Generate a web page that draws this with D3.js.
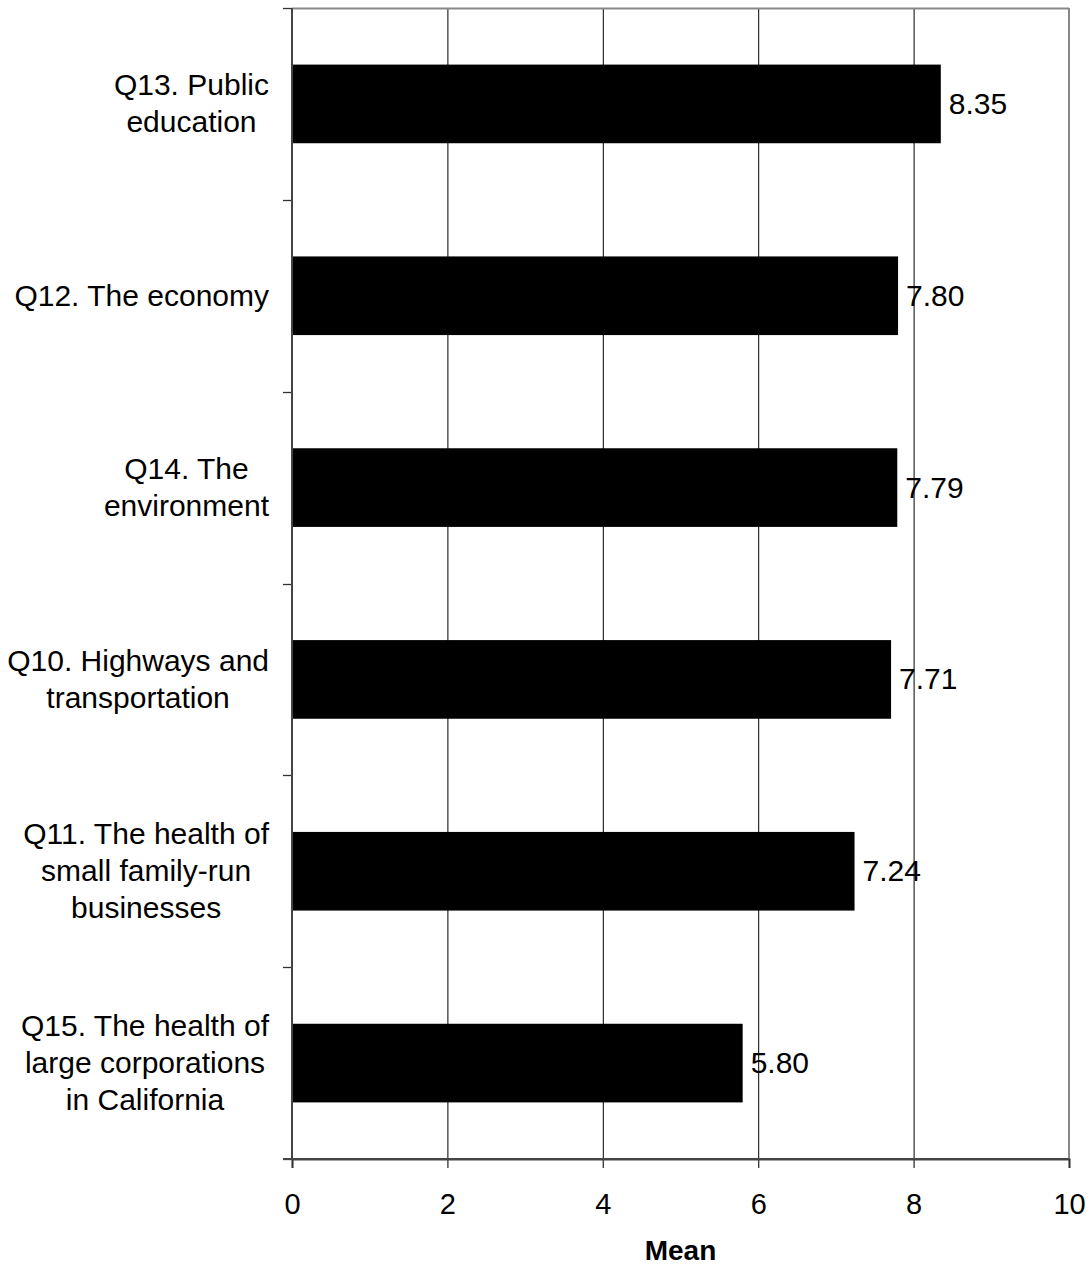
<!DOCTYPE html>
<html><head><meta charset="utf-8">
<script src="https://cdn.jsdelivr.net/npm/d3@7"></script>
<style>body{margin:0;background:#fff}svg{display:block}text{font-family:"Liberation Sans",Arial,sans-serif}</style>
</head><body>
<svg id="c" width="1090" height="1266"></svg>
<script>
const categories = [
  ["Q13. Public","education"],
  ["Q12. The economy"],
  ["Q14. The","environment"],
  ["Q10. Highways and","transportation"],
  ["Q11. The health of","small family-run","businesses"],
  ["Q15. The health of","large corporations","in California"]
];
const values = [8.35, 7.80, 7.79, 7.71, 7.24, 5.80];
const valueLabels = ["8.35","7.80","7.79","7.71","7.24","5.80"];
const xTicks = [0,2,4,6,8,10];
const axisTitle = "Mean";

const svg = d3.select("#c");
const L=292, R=1069, T=8, B=1159;
const x = d3.scaleLinear().domain([0,10]).range([L,R]);
const keys = categories.map((c,i)=>"c"+i);
const y = d3.scaleBand().domain(keys).range([T,B]).padding(0);
const barH = y.bandwidth()*0.41;
const FS = 30;

// gridlines
svg.append("g").selectAll("line").data(xTicks.filter(t=>t>0&&t<10)).join("line")
  .attr("x1",d=>x(d)+0.5).attr("x2",d=>x(d)+0.5).attr("y1",T).attr("y2",B)
  .attr("stroke","#000").attr("stroke-width",1);
// top/right border
svg.append("line").attr("x1",L).attr("x2",R).attr("y1",T+0.5).attr("y2",T+0.5).attr("stroke","#888").attr("stroke-width",2);
svg.append("line").attr("x1",R).attr("x2",R).attr("y1",T).attr("y2",B).attr("stroke","#888").attr("stroke-width",2);

// bars
svg.append("g").selectAll("rect").data(values).join("rect")
  .attr("x",x(0)-1).attr("y",(d,i)=>y(keys[i])+(y.bandwidth()-barH)/2)
  .attr("width",d=>x(d)-x(0)+1).attr("height",barH).attr("fill","#000");

// axes
const yAxis = svg.append("g").attr("transform",`translate(${L},0)`)
  .call(d3.axisLeft(y).tickSize(0).tickFormat(""));
yAxis.select(".domain").remove();
const bounds = [T, ...keys.map(k=>y(k)+y.bandwidth())];
svg.append("g").selectAll("line").data(bounds).join("line")
  .attr("x1",L-9).attr("x2",L).attr("y1",d=>Math.round(d)+0.5).attr("y2",d=>Math.round(d)+0.5)
  .attr("stroke","#333").attr("stroke-width",1.3);
svg.append("line").attr("x1",L).attr("x2",L).attr("y1",T).attr("y2",B+1).attr("stroke","#444").attr("stroke-width",2);

const xAxis = svg.append("g").attr("transform",`translate(0,${B})`)
  .call(d3.axisBottom(x).tickValues(xTicks).tickSize(9).tickPadding(0).tickFormat(d3.format("d")));
xAxis.select(".domain").attr("stroke","#444").attr("stroke-width",2);
xAxis.selectAll(".tick line").attr("stroke","#333").attr("stroke-width",1.3);
xAxis.selectAll(".tick text").attr("font-size",29).attr("fill","#000")
  .attr("font-family","Liberation Sans, Arial, sans-serif").attr("y",55).attr("dy",0);
svg.append("line").attr("x1",L-9).attr("x2",R).attr("y1",B).attr("y2",B).attr("stroke","#444").attr("stroke-width",2);

// value labels
svg.append("g").selectAll("text").data(values).join("text")
  .attr("x",d=>x(d)+8).attr("y",(d,i)=>y(keys[i])+y.bandwidth()/2+10)
  .attr("font-size",FS).attr("fill","#000").text((d,i)=>valueLabels[i]);

// category labels
const lh = 37;
categories.forEach((lines,i)=>{
  const g = svg.append("g");
  const cy = y(keys[i])+y.bandwidth()/2;
  const n = lines.length;
  const t = g.selectAll("text").data(lines).join("text")
    .attr("font-size",FS).attr("fill","#000").attr("text-anchor","middle")
    .attr("y",(d,j)=>cy+(j-(n-1)/2)*lh+10).text(d=>d);
  let maxW=0; t.each(function(){maxW=Math.max(maxW,this.getComputedTextLength());});
  t.attr("x",269-maxW/2);
});

// axis title
svg.append("text").attr("x",(L+R)/2).attr("y",1260).attr("text-anchor","middle")
  .attr("font-size",28).attr("font-weight","bold").attr("fill","#000").text(axisTitle);
</script>
</body></html>
